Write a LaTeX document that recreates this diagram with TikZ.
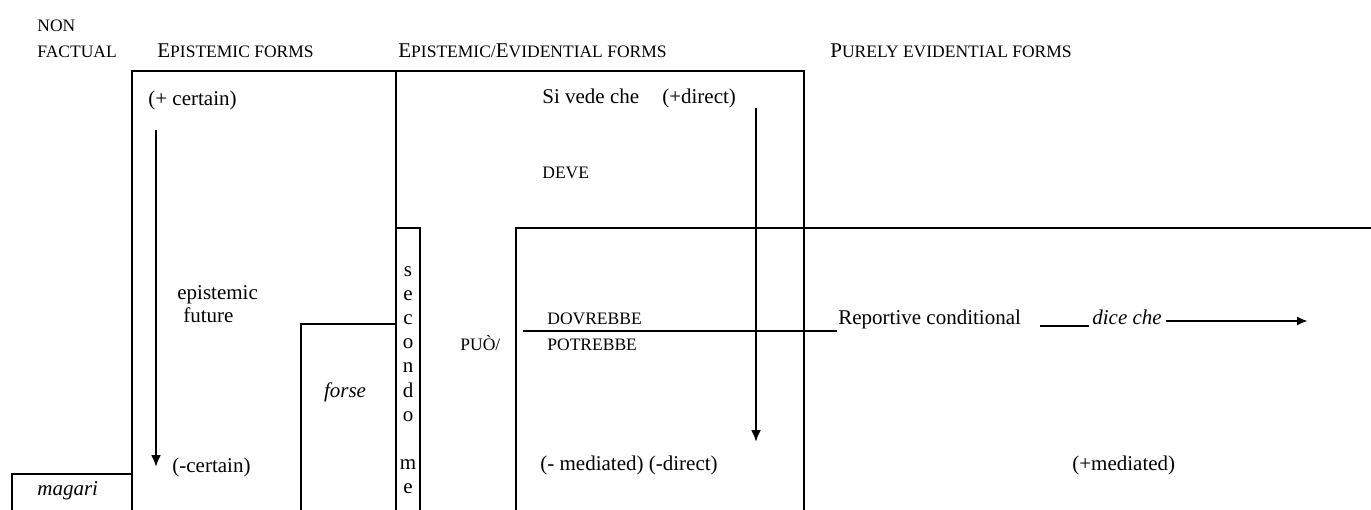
\documentclass[tikz,border=0pt]{standalone}
\usepackage{fontspec}
\setmainfont{Liberation Serif}
\usetikzlibrary{arrows.meta}
\newcommand{\mainsz}{\fontsize{10.5}{12}\selectfont}
\newcommand{\smsz}{\fontsize{8.75}{10}\selectfont}
\newcommand{\fsc}[1]{{\mainsz #1}}
\begin{document}
\begin{tikzpicture}[x=0.5pt,y=-0.5pt,
  txt/.style={anchor=base west, inner sep=0pt, font=\mainsz},
  sm/.style={anchor=base west, inner sep=0pt, font=\smsz},
  frame/.style={line width=1.1pt, line join=miter},
  arr/.style={line width=1.1pt, -{Latex[length=6pt,width=5pt]}},
  sarr/.style={line width=1.1pt, -{Latex[length=5.5pt,width=4.5pt]}}]
\useasboundingbox (0,0) rectangle (1371,509);

% headings
\node[sm] (non) at (37,31) {NON};
\node[sm] (fact) at (37,57) {FACTUAL};
\node[sm] (h1) at (157,57) {\fsc{E}PISTEMIC FORMS};
\node[sm] (h2) at (398,57) {\fsc{E}PISTEMIC/\fsc{E}VIDENTIAL FORMS};
\node[sm] (h3) at (830,57) {\fsc{P}URELY EVIDENTIAL FORMS};

% frames
\draw[frame] (132,510) -- (132,71) -- (804,71) -- (804,510);
\draw[frame] (396,71) -- (396,510);
\draw[frame] (396,228) -- (420,228) -- (420,510);
\draw[frame] (396,324) -- (301,324) -- (301,510);
\draw[frame] (132,474) -- (12,474) -- (12,510);
\draw[frame] (516,510) -- (516,228) -- (1372,228);

% epistemic column
\node[txt] (cert) at (148,105) {(+ certain)};
\coordinate (a1s) at (156,130);
\coordinate (a1e) at (156,467);
\draw[arr] (a1s) -- (a1e);
\node[txt] (epi) at (177,299) {epistemic};
\node[txt] (fut) at (183,322) {future};
\node[txt] (ncert) at (172,472) {(-certain)};
\node[txt] (magari) at (37,495) {\itshape magari};
\node[txt, anchor=base] (forse) at (345,397) {\itshape forse};

% secondo me
\foreach \l/\i in {s/0,e/1,c/2,o/3,n/4,d/5,o/6,m/8,e/9}
  \node[txt, anchor=base] (sec\i) at (408,276+24.2*\i) {\l};

% epistemic/evidential column
\node[txt] (sivede) at (542,103) {Si vede che\hspace{1.1em}(+direct)};
\node[sm] (deve) at (542,178) {DEVE};
\node[sm] (puo) at (460,350) {PUÒ/};
\node[sm] (dovr) at (547,324) {DOVREBBE};
\node[sm] (potr) at (547,350) {POTREBBE};
\coordinate (l1) at (523,331);
\coordinate (l2) at (837,331);
\draw[frame] (l1) -- (l2);
\coordinate (a2s) at (756,108);
\coordinate (a2e) at (756,442);
\draw[arr] (a2s) -- (a2e);
\node[txt] (mmed) at (540,470) {(- mediated) (-direct)};

% purely evidential
\node[txt] (rep) at (838,324) {Reportive conditional};
\coordinate (s1) at (1040,326);
\coordinate (s2) at (1089,326);
\draw[frame] (s1) -- (s2);
\node[txt] (dice) at (1092,324) {\itshape dice che};
\coordinate (a3s) at (1166,321);
\coordinate (a3e) at (1308,321);
\draw[sarr] (a3s) -- (a3e);
\node[txt] (pmed) at (1072,470) {(+mediated)};
\end{tikzpicture}
\end{document}
